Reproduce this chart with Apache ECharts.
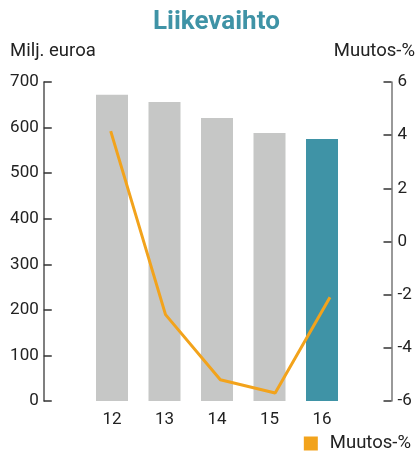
<!DOCTYPE html>
<html>
<head>
<meta charset="utf-8">
<script src="https://cdn.jsdelivr.net/npm/echarts@6/dist/echarts.min.js"></script>
<style>
  html, body { margin: 0; padding: 0; background: #fff; }
  #chart { width: 416px; height: 458px; }
</style>
</head>
<body>
<div id="chart"></div>
<script>
// data
var years = ['12', '13', '14', '15', '16'];
var revenue = [672, 656, 621, 588, 575];
var changePct = [4.15, -2.75, -5.2, -5.7, -2.1];
var leftTicks = [0, 100, 200, 300, 400, 500, 600, 700];
var rightTicks = [-6, -4, -2, 0, 2, 4, 6];

var grey = '#c6c7c6';
var teal = '#3f93a6';
var orange = '#f2a31c';
var font = 'Roboto';

var chart = echarts.init(document.getElementById('chart'));

var option = {
  animation: false,
  title: {
    text: 'Liikevaihto',
    left: 148,
    top: 4,
    textStyle: { color: teal, fontSize: 26, fontWeight: 'bold', fontFamily: font }
  },
  legend: {
    data: ['Muutos-%'],
    right: 0,
    bottom: 0,
    itemWidth: 14,
    itemHeight: 14,
    icon: 'rect',
    textStyle: { color: '#222', fontSize: 18.5, fontFamily: font, padding: [0, 0, 0, 7] }
  },
  graphic: [
    { type: 'text', left: 10, top: 42, style: { text: 'Milj. euroa', fill: '#222', font: '18.5px ' + font } },
    { type: 'text', right: 1, top: 42, style: { text: 'Muutos-%', fill: '#222', font: '18.5px ' + font } }
  ],
  grid: [
    { left: 85.75, right: 67.75, top: 82, bottom: 57 },
    { left: 83.3, right: 58.6, top: 82, bottom: 57 }
  ],
  xAxis: [
    {
      type: 'category', gridIndex: 0, data: years,
      axisLine: { show: false }, axisTick: { show: false },
      axisLabel: { color: '#222', fontSize: 17, fontFamily: font, margin: 10 }
    },
    {
      type: 'category', gridIndex: 1, data: years, show: false
    }
  ],
  yAxis: [
    {
      type: 'value', gridIndex: 0, position: 'left', offset: 42,
      min: leftTicks[0], max: leftTicks[leftTicks.length - 1], interval: 100,
      splitLine: { show: false },
      axisLine: { show: true, lineStyle: { color: '#555', width: 1.5 } },
      axisTick: { show: true, inside: true, length: 8, lineStyle: { color: '#333', width: 1.5 } },
      axisLabel: { color: '#222', fontSize: 17, fontFamily: font, margin: 5 }
    },
    {
      type: 'value', gridIndex: 0, position: 'right', offset: 43.25,
      min: rightTicks[0], max: rightTicks[rightTicks.length - 1], interval: 2,
      splitLine: { show: false },
      axisLine: { show: true, lineStyle: { color: '#777', width: 1.5 } },
      axisTick: { show: true, inside: true, length: 8, lineStyle: { color: '#333', width: 1.5 } },
      axisLabel: { color: '#222', fontSize: 17, fontFamily: font, margin: 6 }
    },
    {
      type: 'value', gridIndex: 1, show: false,
      min: rightTicks[0], max: rightTicks[rightTicks.length - 1], interval: 2
    }
  ],
  series: [
    {
      name: 'Liikevaihto',
      type: 'bar',
      xAxisIndex: 0,
      yAxisIndex: 0,
      barWidth: 32,
      data: revenue.map(function (v, i) {
        return { value: v, itemStyle: { color: i === revenue.length - 1 ? teal : grey } };
      })
    },
    {
      name: 'Muutos-%',
      type: 'line',
      xAxisIndex: 1,
      yAxisIndex: 2,
      data: changePct,
      showSymbol: false,
      symbol: 'none',
      itemStyle: { color: orange },
      lineStyle: { color: orange, width: 3 },
      z: 5
    }
  ]
};

chart.setOption(option);
</script>
</body>
</html>
